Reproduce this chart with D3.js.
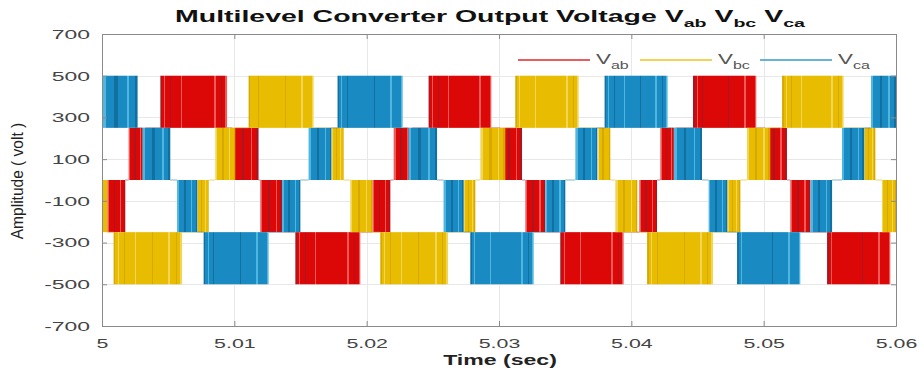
<!DOCTYPE html>
<html>
<head>
<meta charset="utf-8">
<script src="https://cdn.jsdelivr.net/npm/d3@7"></script>
<style>
  body { margin: 0; background: #fff; }
  svg { display: block; }
  text { font-family: "Liberation Sans", Arial, Helvetica, sans-serif; }
</style>
</head>
<body>
<svg id="chart" width="919" height="376"></svg>
<script>
// ---- axis definitions ----
const timeDomain = [5.00, 5.06];
const timeTicks = [5.00, 5.01, 5.02, 5.03, 5.04, 5.05, 5.06];
const timeTickLabels = ["5", "5.01", "5.02", "5.03", "5.04", "5.05", "5.06"];
const voltDomain = [-700, 700];
const voltTicks = [700, 500, 300, 100, -100, -300, -500, -700];
const voltTickLabels = ["700", "500", "300", "100", "-100", "-300", "-500", "-700"];

// ---- line-to-line voltages: switching intervals ----
// each entry: [start (s), end (s), lower level (V), upper level (V)]
const vab = [
  [5.00040, 5.00176, -250, 0],
  [5.00201, 5.00327, 0, 250],
  [5.00441, 5.00945, 250, 500],
  [5.00985, 5.01183, 0, 250],
  [5.01196, 5.01362, -250, 0],
  [5.01461, 5.01952, -500, -250],
  [5.02043, 5.02179, -250, 0],
  [5.02204, 5.02345, 0, 250],
  [5.02468, 5.02942, 250, 500],
  [5.03010, 5.03174, 0, 250],
  [5.03199, 5.03350, -250, 0],
  [5.03463, 5.03942, -500, -250],
  [5.04060, 5.04194, -250, 0],
  [5.04219, 5.04333, 0, 250],
  [5.04466, 5.04944, 250, 500],
  [5.05012, 5.05176, 0, 250],
  [5.05201, 5.05353, -250, 0],
  [5.05479, 5.05957, -500, -250]
];
const vbc = [
  [5.00000, 5.00040, -250, 0],
  [5.00088, 5.00605, -500, -250],
  [5.00720, 5.00806, -250, 0],
  [5.00856, 5.01007, 0, 250],
  [5.01108, 5.01599, 250, 500],
  [5.01733, 5.01826, 0, 250],
  [5.01876, 5.02043, -250, 0],
  [5.02103, 5.02615, -500, -250],
  [5.02733, 5.02821, -250, 0],
  [5.02859, 5.03048, 0, 250],
  [5.03123, 5.03602, 250, 500],
  [5.03750, 5.03841, 0, 250],
  [5.03879, 5.04045, -250, 0],
  [5.04119, 5.04617, -500, -250],
  [5.04725, 5.04824, -250, 0],
  [5.04874, 5.05050, 0, 250],
  [5.05139, 5.05604, 250, 500],
  [5.05760, 5.05844, 0, 250],
  [5.05894, 5.06000, -250, 0]
];
const vca = [
  [5.00000, 5.00269, 250, 500],
  [5.00305, 5.00516, 0, 250],
  [5.00567, 5.00720, -250, 0],
  [5.00768, 5.01259, -500, -250],
  [5.01360, 5.01499, -250, 0],
  [5.01561, 5.01733, 0, 250],
  [5.01780, 5.02272, 250, 500],
  [5.02315, 5.02532, 0, 250],
  [5.02581, 5.02733, -250, 0],
  [5.02783, 5.03262, -500, -250],
  [5.03350, 5.03501, -250, 0],
  [5.03577, 5.03743, 0, 250],
  [5.03798, 5.04274, 250, 500],
  [5.04320, 5.04534, 0, 250],
  [5.04584, 5.04725, -250, 0],
  [5.04799, 5.05277, -500, -250],
  [5.05353, 5.05517, -250, 0],
  [5.05592, 5.05760, 0, 250],
  [5.05811, 5.06000, 250, 500]
];
const seriesNames = ["ab", "bc", "ca"];

// ---- styling ----
const seriesStyle = [
  { data: vab, color: "#dc0808", dark: "#aa1620", light: "#ec5a5a" },
  { data: vbc, color: "#e8bc00", dark: "#d6a800", light: "#f2d456" },
  { data: vca, color: "#1a8bc2", dark: "#11709f", light: "#4fb6e0" }
];
// stripe layouts across a block (fractions of its width): [from, to, "dark"|"light"]
const wideStripes = [
  [0.00, 0.025, "dark"], [0.06, 0.075, "light"], [0.15, 0.16, "dark"],
  [0.31, 0.32, "light"], [0.56, 0.57, "dark"], [0.80, 0.83, "light"],
  [0.91, 0.92, "dark"], [0.975, 1.00, "light"]
];
const narrowStripes = [
  [0.00, 0.10, "light"], [0.35, 0.45, "dark"], [0.70, 0.76, "light"], [0.92, 1.00, "dark"]
];

const plot = { left: 102, right: 896, top: 34, bottom: 326 };

const svg = d3.select("#chart");
const x = d3.scaleLinear().domain(timeDomain).range([plot.left, plot.right]);
const y = d3.scaleLinear().domain(voltDomain).range([plot.bottom, plot.top]);

// stripe gradients (one wide + one narrow per series)
const defs = svg.append("defs");
function stripeGradient(id, s, layout) {
  const g = defs.append("linearGradient").attr("id", id)
    .attr("x1", 0).attr("x2", 1).attr("y1", 0).attr("y2", 0);
  let pos = 0;
  layout.forEach(([a, b, kind]) => {
    const c = kind === "dark" ? s.dark : s.light;
    if (a > pos) {
      g.append("stop").attr("offset", pos).attr("stop-color", s.color);
      g.append("stop").attr("offset", a).attr("stop-color", s.color);
    }
    g.append("stop").attr("offset", a).attr("stop-color", c);
    g.append("stop").attr("offset", b).attr("stop-color", c);
    pos = b;
  });
  if (pos < 1) {
    g.append("stop").attr("offset", pos).attr("stop-color", s.color);
    g.append("stop").attr("offset", 1).attr("stop-color", s.color);
  }
}
seriesStyle.forEach((s, i) => {
  stripeGradient("wide" + i, s, wideStripes);
  stripeGradient("narrow" + i, s, narrowStripes);
});

// grid
const grid = svg.append("g").attr("stroke", "#e8e8e8").attr("stroke-width", 1);
grid.selectAll("line.v").data(timeTicks.slice(1, -1)).join("line")
  .attr("x1", d => Math.round(x(d)) + 0.5).attr("x2", d => Math.round(x(d)) + 0.5)
  .attr("y1", plot.top).attr("y2", plot.bottom);
grid.selectAll("line.h").data(voltTicks.slice(1, -1)).join("line")
  .attr("y1", d => Math.round(y(d)) + 0.5).attr("y2", d => Math.round(y(d)) + 0.5)
  .attr("x1", plot.left).attr("x2", plot.right);

// series blocks and level connectors
const plotArea = svg.append("g");
seriesStyle.forEach((s, i) => {
  const g = plotArea.append("g");
  // resting level between consecutive switching intervals
  const links = [];
  for (let k = 0; k < s.data.length - 1; k++) {
    const a = s.data[k], b = s.data[k + 1];
    const level = a[3] === b[2] ? a[3] : (a[2] === b[3] ? a[2] : null);
    if (level !== null) links.push([a[1], b[0], level]);
  }
  g.selectAll("line").data(links).join("line")
    .attr("x1", d => x(d[0])).attr("x2", d => x(d[1]))
    .attr("y1", d => y(d[2])).attr("y2", d => y(d[2]))
    .attr("stroke", s.dark).attr("stroke-width", 1).attr("stroke-opacity", 0.5);
  g.selectAll("rect").data(s.data).join("rect")
    .attr("x", d => x(d[0]))
    .attr("width", d => x(d[1]) - x(d[0]))
    .attr("y", d => y(d[3]))
    .attr("height", d => y(d[2]) - y(d[3]))
    .attr("fill", d => (d[1] - d[0] > 0.003 ? `url(#wide${i})` : `url(#narrow${i})`));
});

// axes (ticks inward, box on)
const axisColor = "#8a8a8a";
function styleAxis(g) {
  g.select(".domain").attr("stroke", axisColor);
  g.selectAll(".tick line").attr("stroke", axisColor);
  g.selectAll(".tick text").attr("fill", "#444").style("font-size", "13.5px");
}
const xAxis = svg.append("g").attr("transform", `translate(0,${plot.bottom})`)
  .call(d3.axisBottom(x).tickValues(timeTicks)
    .tickFormat((d, i) => timeTickLabels[i]).tickSizeInner(-5).tickSizeOuter(0).tickPadding(12))
  .call(styleAxis);
xAxis.selectAll(".tick text").attr("transform", "scale(1.58,1)");

const yAxis = svg.append("g").attr("transform", `translate(${plot.left},0)`)
  .call(d3.axisLeft(y).tickValues(voltTicks)
    .tickFormat((d, i) => voltTickLabels[i]).tickSizeInner(-5).tickSizeOuter(0).tickPadding(7))
  .call(styleAxis);
yAxis.selectAll(".tick text").attr("transform", "scale(1.7,1)");

svg.append("g").attr("transform", `translate(0,${plot.top})`)
  .call(d3.axisTop(x).tickValues(timeTicks).tickFormat("").tickSizeInner(-5).tickSizeOuter(0))
  .call(styleAxis);
svg.append("g").attr("transform", `translate(${plot.right},0)`)
  .call(d3.axisRight(y).tickValues(voltTicks).tickFormat("").tickSizeInner(-5).tickSizeOuter(0))
  .call(styleAxis);

// title
const title = svg.append("g").attr("transform", "translate(490,22) scale(1.78,1)")
  .append("text").attr("text-anchor", "middle")
  .attr("font-weight", "bold").attr("font-size", 16).attr("fill", "#111");
title.append("tspan").text("Multilevel Converter Output Voltage ");
seriesNames.forEach((n, i) => {
  title.append("tspan").text("V");
  title.append("tspan").attr("font-size", 11).attr("dy", 5).text(n);
  if (i < seriesNames.length - 1) title.append("tspan").attr("dy", -5).text(" ");
});

// axis labels
svg.append("g").attr("transform", "translate(500,365) scale(1.65,1)")
  .append("text").attr("text-anchor", "middle").attr("font-weight", "bold")
  .attr("font-size", 14).attr("fill", "#222").text("Time (sec)");
svg.append("g").attr("transform", "translate(23,181) rotate(-90) scale(1.35,1.45)")
  .append("text").attr("text-anchor", "middle")
  .attr("font-size", 11.5).attr("fill", "#222").text("Amplitude ( volt )");

// legend
const legendX = [518, 640, 760];
const legend = svg.append("g");
seriesStyle.forEach((s, i) => {
  const lx = legendX[i];
  legend.append("line").attr("x1", lx).attr("x2", lx + 72)
    .attr("y1", 60).attr("y2", 60)
    .attr("stroke", s.color).attr("stroke-width", 2).attr("stroke-opacity", 0.65);
  const t = legend.append("g").attr("transform", `translate(${lx + 78},64) scale(1.6,1)`)
    .append("text").attr("fill", "#555").attr("font-size", 14);
  t.append("tspan").text("V");
  t.append("tspan").attr("font-size", 10).attr("dy", 5).text(seriesNames[i]);
});
</script>
</body>
</html>
